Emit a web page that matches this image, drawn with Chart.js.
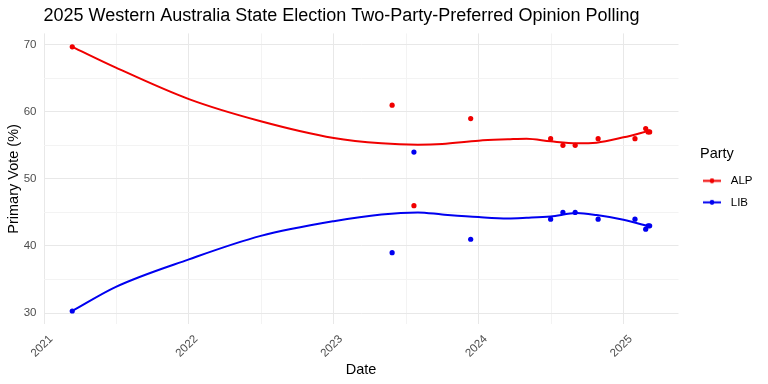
<!DOCTYPE html>
<html>
<head>
<meta charset="utf-8">
<script src="https://cdn.jsdelivr.net/npm/chart.js@4"></script>
<style>
  html, body { margin: 0; padding: 0; background: #ffffff; }
  #wrap { width: 768px; height: 384px; }
</style>
</head>
<body>
<div id="wrap"><canvas id="poll-chart" width="768" height="384"></canvas></div>
<script>
// Poll results (two-party preferred)
const pollDates = ['2021-03-13', '2023-05-28', '2023-07-22', '2023-12-12', '2024-07-01', '2024-08-01',
                   '2024-09-01', '2024-10-29', '2025-01-30', '2025-02-26', '2025-03-04', '2025-03-08'];
const alpPolls = [69.7, 61, 46, 59, 56, 55, 55, 56, 56, 57.5, 57, 57];
const libPolls = [30.3, 39, 54, 41, 44, 45, 45, 44, 44, 42.5, 43, 43];

// Smoothed trend
const trendDates = ['2021-03-13', '2021-07-01', '2022-01-01', '2022-07-01', '2023-01-01', '2023-05-01',
                    '2023-08-01', '2023-10-01', '2024-01-01', '2024-03-15', '2024-05-01', '2024-07-01',
                    '2024-09-05', '2024-10-25', '2025-01-01', '2025-03-08'];
const alpTrend = [69.7, 66.6, 61.9, 58.6, 56.1, 55.3, 55.1, 55.2, 55.7, 55.9, 56.0, 55.6, 55.3, 55.4, 56.2, 57.2];
const libTrend = [30.3, 33.9, 38.0, 41.5, 43.7, 44.7, 45.0, 44.7, 44.3, 44.1, 44.2, 44.4, 44.9, 44.6, 43.9, 42.9];

const parties = ['ALP', 'LIB'];
const partyColors = ['#f00000', '#0000f0'];

// Axis ticks
const xTicks = [2021, 2021.5, 2022, 2022.5, 2023, 2023.5, 2024, 2024.5, 2025];
const yTicks = [30, 35, 40, 45, 50, 55, 60, 65, 70];

function toYear(dateStr) {
    const d = new Date(dateStr + 'T00:00:00Z');
    const y = d.getUTCFullYear();
    const start = Date.UTC(y, 0, 1);
    const end = Date.UTC(y + 1, 0, 1);
    return y + (d.getTime() - start) / (end - start);
}

function toPoints(dates, values) {
    return dates.map((d, i) => ({ x: toYear(d), y: values[i] }));
}

// Legend key: a line with a dot in the middle (ggplot style)
function makeKey(color) {
    const c = document.createElement('canvas');
    c.width = 29;
    c.height = 7;
    const g = c.getContext('2d');
    g.strokeStyle = color;
    g.lineWidth = 2;
    g.beginPath();
    g.moveTo(0, 3.5);
    g.lineTo(18, 3.5);
    g.stroke();
    g.fillStyle = color;
    g.beginPath();
    g.arc(9, 3.5, 2.4, 0, Math.PI * 2);
    g.fill();
    return c;
}
const keyImages = partyColors.map(makeKey);

// Move the legend a little right of the panel
const legendNudge = {
    id: 'legendNudge',
    afterLayout(chart) {
        const lg = chart.legend;
        if (!lg) return;
        const w = lg.width;
        lg.left = 700;
        lg.right = 700 + w;
    }
};

const trendSets = parties.map((p, i) => ({
    type: 'line',
    label: p,
    data: toPoints(trendDates, i === 0 ? alpTrend : libTrend),
    borderColor: partyColors[i],
    backgroundColor: partyColors[i],
    borderWidth: 2,
    pointRadius: 0,
    cubicInterpolationMode: 'monotone',
    fill: false,
    order: 2
}));

const pollSets = parties.map((p, i) => ({
    type: 'scatter',
    label: p + ' polls',
    data: toPoints(pollDates, i === 0 ? alpPolls : libPolls),
    backgroundColor: partyColors[i],
    borderColor: partyColors[i],
    borderWidth: 0,
    pointRadius: 2.6,
    order: 1
}));

new Chart(document.getElementById('poll-chart'), {
    data: { datasets: trendSets.concat(pollSets) },
    plugins: [legendNudge],
    options: {
        responsive: false,
        animation: false,
        layout: { padding: { left: 0, right: 27, top: 0, bottom: 0 } },
        scales: {
            x: {
                type: 'linear',
                min: 2020.996,
                max: 2025.38,
                afterBuildTicks: s => { s.ticks = xTicks.map(v => ({ value: v })); },
                afterFit: s => { s.height = 59.6; },
                grid: {
                    drawTicks: false,
                    color: c => (c.tick && Number.isInteger(c.tick.value)) ? '#e8e8e8' : '#f3f3f3'
                },
                border: { display: false },
                ticks: {
                    autoSkip: false,
                    minRotation: 45,
                    maxRotation: 45,
                    padding: 8,
                    labelOffset: 7,
                    color: '#4d4d4d',
                    font: { family: '"Liberation Sans", Arial, sans-serif', size: 11.5 },
                    callback: v => Number.isInteger(v) ? String(v) : ''
                },
                title: {
                    display: true,
                    text: 'Date',
                    color: '#000000',
                    padding: { top: 0, bottom: 5 },
                    font: { family: '"Liberation Sans", Arial, sans-serif', size: 14.5 }
                }
            },
            y: {
                type: 'linear',
                min: 28.3,
                max: 71.7,
                afterBuildTicks: s => { s.ticks = yTicks.map(v => ({ value: v })); },
                afterFit: s => { s.width = 43.5; },
                grid: {
                    drawTicks: false,
                    color: c => (c.tick && c.tick.value % 10 === 0) ? '#e8e8e8' : '#f3f3f3'
                },
                border: { display: false },
                ticks: {
                    padding: 7,
                    color: '#4d4d4d',
                    font: { family: '"Liberation Sans", Arial, sans-serif', size: 11.5 },
                    callback: v => (v % 10 === 0) ? String(v) : ''
                },
                title: {
                    display: true,
                    text: 'Primary Vote (%)',
                    color: '#000000',
                    padding: { top: 5, bottom: 0 },
                    font: { family: '"Liberation Sans", Arial, sans-serif', size: 14.5 }
                }
            }
        },
        plugins: {
            title: {
                display: true,
                text: '2025 Western Australia State Election Two-Party-Preferred Opinion Polling',
                align: 'start',
                fullSize: false,
                color: '#000000',
                padding: { top: 5.1, bottom: 6.7 },
                font: { family: '"Liberation Sans", Arial, sans-serif', size: 18, weight: 'normal' }
            },
            legend: {
                position: 'right',
                fullSize: false,
                title: {
                    display: true,
                    text: 'Party',
                    position: 'start',
                    color: '#000000',
                    padding: { top: 7, bottom: 1 },
                    font: { family: '"Liberation Sans", Arial, sans-serif', size: 14.5 }
                },
                labels: {
                    usePointStyle: true,
                    pointStyleWidth: 15,
                    padding: 10,
                    color: '#000000',
                    font: { family: '"Liberation Sans", Arial, sans-serif', size: 11.5 },
                    generateLabels: () => parties.map((p, i) => ({
                        text: p,
                        pointStyle: keyImages[i],
                        fillStyle: partyColors[i],
                        strokeStyle: partyColors[i],
                        fontColor: '#000000',
                        lineWidth: 0,
                        hidden: false,
                        datasetIndex: i
                    }))
                }
            },
            tooltip: { enabled: false }
        }
    }
});
</script>
</body>
</html>
